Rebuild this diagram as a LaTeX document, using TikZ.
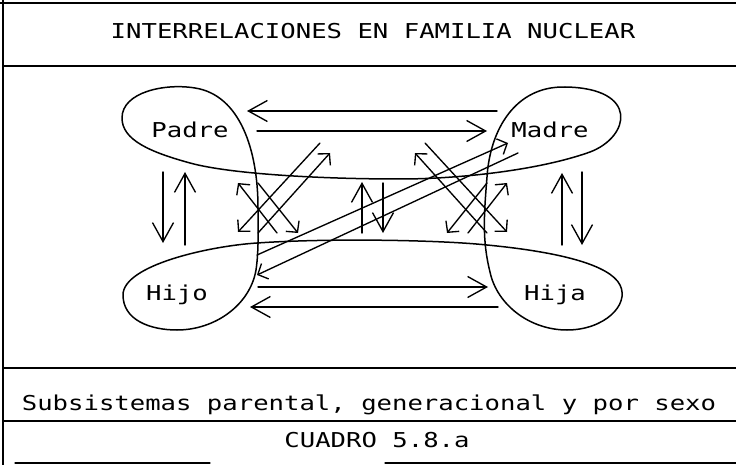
\documentclass[tikz,border=0pt]{standalone}
\usepackage{fontspec}
\newfontfamily\plotfont[FakeStretch=1.25]{DejaVu Sans Mono}
\usetikzlibrary{arrows.meta}
\begin{document}
\begin{tikzpicture}[x=1pt,y=-1pt,line cap=round,line join=round,
  frame/.style={line width=1.3pt},
  loopline/.style={line width=1.5pt},
  arr/.style={line width=1.35pt,-{Straight Barb[length=19pt,width=21pt,line width=1.35pt]}},
  darr/.style={line width=1.35pt,-{Straight Barb[length=8pt,width=17pt,line width=1.35pt]}},
  lbl/.style={font=\plotfont\fontsize{20.5}{24}\selectfont,inner sep=0pt}]
\useasboundingbox (0,0) rectangle (736,465);
% frame
\draw[frame] (0,3) -- (736,3);
\draw[frame] (3,0) -- (3,465);
\draw[frame] (3,66) -- (736,66);
\draw[frame] (3,368) -- (736,368);
\draw[frame] (3,421) -- (736,421);
\draw[frame] (15,463) -- (210,463);
\draw[frame] (385,463) -- (736,463);
% texts
\node[lbl] (title) at (373,31) {INTERRELACIONES EN FAMILIA NUCLEAR};
\node[lbl] (padre) at (190,130) {Padre};
\node[lbl] (madre) at (550,130) {Madre};
\node[lbl] (hijo) at (177,295) {Hijo};
\node[lbl] (hija) at (555,295) {Hija};
\node[lbl] (sub) at (369,405) {Subsistemas parental, generacional y por sexo};
\node[lbl] (cuadro) at (377,440) {CUADRO 5.8.a};
% four-lobed loop
\draw[loopline] (258,208) .. controls (258,150) and (240,95) .. (195,88)
  .. controls (165,83) and (122,92) .. (122,118)
  .. controls (122,140) and (150,152) .. (190,163)
  .. controls (230,174) and (320,179) .. (400,179)
  .. controls (460,179) and (540,170) .. (590,152)
  .. controls (630,137) and (640,88) .. (565,87)
  .. controls (515,86) and (490,130) .. (487,177)
  .. controls (484,215) and (482,240) .. (490,272)
  .. controls (497,305) and (530,330) .. (567,330)
  .. controls (604,330) and (630,305) .. (620,285)
  .. controls (610,265) and (560,252) .. (487,245)
  .. controls (440,240) and (330,238) .. (257,243)
  .. controls (210,246) and (123,265) .. (123,295)
  .. controls (123,320) and (150,330) .. (177,330)
  .. controls (215,330) and (250,305) .. (256,270)
  .. controls (259,250) and (258,225) .. (258,208) -- cycle;
% horizontal arrows
\coordinate (h1s) at (497,111); \coordinate (h1e) at (247,111);
\coordinate (h2s) at (257,131); \coordinate (h2e) at (487,131);
\coordinate (h3s) at (258,287); \coordinate (h3e) at (488,287);
\coordinate (h4s) at (498,307); \coordinate (h4e) at (250,307);
\draw[arr] (h1s) -- (h1e);
\draw[arr] (h2s) -- (h2e);
\draw[arr] (h3s) -- (h3e);
\draw[arr] (h4s) -- (h4e);
% vertical arrows
\coordinate (v1s) at (163,172); \coordinate (v1e) at (163,243);
\coordinate (v2s) at (185,245); \coordinate (v2e) at (185,172);
\coordinate (v3s) at (562,245); \coordinate (v3e) at (562,173);
\coordinate (v4s) at (582,172); \coordinate (v4e) at (582,245);
\coordinate (v5s) at (362,233); \coordinate (v5e) at (362,182);
\coordinate (v6s) at (383,183); \coordinate (v6e) at (383,233);
\draw[arr] (v1s) -- (v1e);
\draw[arr] (v2s) -- (v2e);
\draw[arr] (v3s) -- (v3e);
\draw[arr] (v4s) -- (v4e);
\draw[arr] (v5s) -- (v5e);
\draw[arr] (v6s) -- (v6e);
% left cross
\coordinate (a1s) at (320,143); \coordinate (a1e) at (238,232);
\coordinate (a2s) at (258,233); \coordinate (a2e) at (330,153);
\coordinate (a3s) at (277,233); \coordinate (a3e) at (238,183);
\coordinate (a4s) at (258,183); \coordinate (a4e) at (298,233);
\draw[darr] (a1s) -- (a1e);
\draw[darr] (a2s) -- (a2e);
\draw[darr] (a3s) -- (a3e);
\draw[darr] (a4s) -- (a4e);
% right cross
\coordinate (b1s) at (425,143); \coordinate (b1e) at (507,232);
\coordinate (b2s) at (487,233); \coordinate (b2e) at (415,153);
\coordinate (b3s) at (468,233); \coordinate (b3e) at (507,183);
\coordinate (b4s) at (487,183); \coordinate (b4e) at (447,233);
\draw[darr] (b1s) -- (b1e);
\draw[darr] (b2s) -- (b2e);
\draw[darr] (b3s) -- (b3e);
\draw[darr] (b4s) -- (b4e);
% long diagonals
\coordinate (c1s) at (257,255); \coordinate (c1e) at (508,143);
\coordinate (c2s) at (518,153); \coordinate (c2e) at (257,275);
\draw[darr] (c1s) -- (c1e);
\draw[darr] (c2s) -- (c2e);
\end{tikzpicture}
\end{document}
